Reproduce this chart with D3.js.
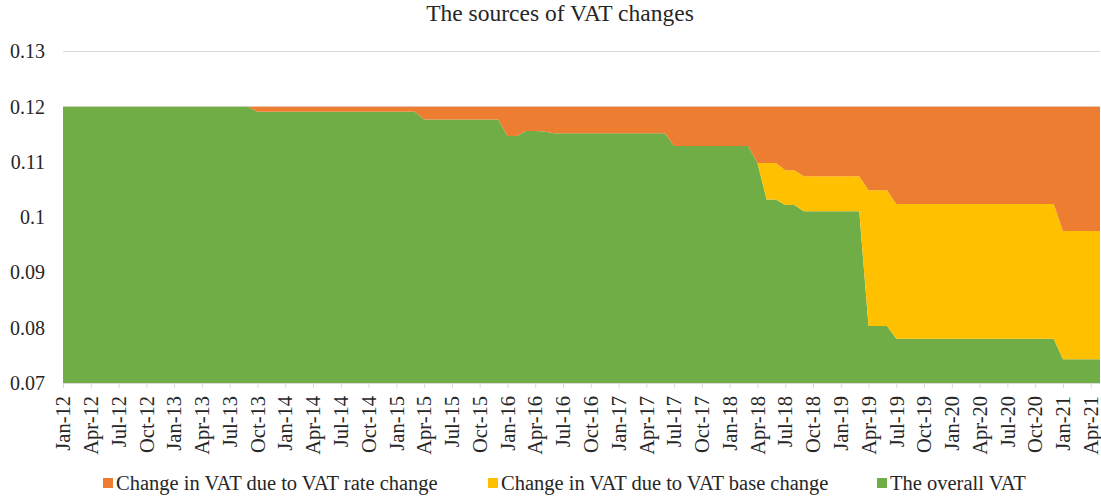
<!DOCTYPE html>
<html>
<head>
<meta charset="utf-8">
<script src="https://cdn.jsdelivr.net/npm/d3@7"></script>
<style>
body { margin: 0; background: white; }
text { font-family: "Liberation Serif", "Times New Roman", serif; fill: #262626; }
</style>
</head>
<body>
<div id="chart"></div>
<script>
// months Jan-12 .. May-21
var months = d3.timeMonth.range(new Date(2012, 0, 1), new Date(2021, 5, 1));
var monthLabels = months.map(d3.timeFormat("%b-%y"));

// the overall VAT (green, bottom layer)
var overallVAT = [
  0.12, 0.12, 0.12, 0.12, 0.12, 0.12, 0.12, 0.12, 0.12, 0.12, 0.12, 0.12,
  0.12, 0.12, 0.12, 0.12, 0.12, 0.12, 0.12, 0.12, 0.12, 0.1191, 0.1191, 0.1191,
  0.1191, 0.1191, 0.1191, 0.1191, 0.1191, 0.1191, 0.1191, 0.1191, 0.1191, 0.1191, 0.1191, 0.1191,
  0.1191, 0.1191, 0.1191, 0.1177, 0.1177, 0.1177, 0.1177, 0.1177, 0.1177, 0.1177, 0.1177, 0.1177,
  0.1147, 0.1147, 0.1156, 0.1156, 0.1155, 0.1152, 0.1152, 0.1152, 0.1152, 0.1152, 0.1152, 0.1152,
  0.1152, 0.1152, 0.1152, 0.1152, 0.1152, 0.1152, 0.1129, 0.1129, 0.1129, 0.1129, 0.1129, 0.1129,
  0.1129, 0.1129, 0.1129, 0.1098, 0.1032, 0.1032, 0.1022, 0.1022, 0.1011, 0.1011, 0.1011, 0.1011,
  0.1011, 0.1011, 0.1011, 0.0803, 0.0803, 0.0803, 0.0780, 0.0780, 0.0780, 0.0780, 0.0780, 0.0780,
  0.0780, 0.0780, 0.0780, 0.0780, 0.0780, 0.0780, 0.0780, 0.0780, 0.0780, 0.0780, 0.0780, 0.0780,
  0.0743, 0.0743, 0.0743, 0.0743, 0.0743
];

// change due to VAT base change (yellow, middle layer)
var baseChange = [
  0, 0, 0, 0, 0, 0, 0, 0, 0, 0, 0, 0,
  0, 0, 0, 0, 0, 0, 0, 0, 0, 0, 0, 0,
  0, 0, 0, 0, 0, 0, 0, 0, 0, 0, 0, 0,
  0, 0, 0, 0, 0, 0, 0, 0, 0, 0, 0, 0,
  0, 0, 0, 0, 0, 0, 0, 0, 0, 0, 0, 0,
  0, 0, 0, 0, 0, 0, 0, 0, 0, 0, 0, 0,
  0, 0, 0, 0, 0.0066, 0.0066, 0.0063, 0.0063, 0.0063, 0.0063, 0.0063, 0.0063,
  0.0063, 0.0063, 0.0063, 0.0246, 0.0246, 0.0246, 0.0244, 0.0244, 0.0244, 0.0244, 0.0244, 0.0244,
  0.0244, 0.0244, 0.0244, 0.0244, 0.0244, 0.0244, 0.0244, 0.0244, 0.0244, 0.0244, 0.0244, 0.0244,
  0.0232, 0.0232, 0.0232, 0.0232, 0.0232
];

// change due to VAT rate change (orange, top layer)
var rateChange = [
  0, 0, 0, 0, 0, 0, 0, 0, 0, 0, 0, 0,
  0, 0, 0, 0, 0, 0, 0, 0, 0, 0.0009, 0.0009, 0.0009,
  0.0009, 0.0009, 0.0009, 0.0009, 0.0009, 0.0009, 0.0009, 0.0009, 0.0009, 0.0009, 0.0009, 0.0009,
  0.0009, 0.0009, 0.0009, 0.0023, 0.0023, 0.0023, 0.0023, 0.0023, 0.0023, 0.0023, 0.0023, 0.0023,
  0.0053, 0.0053, 0.0044, 0.0044, 0.0045, 0.0048, 0.0048, 0.0048, 0.0048, 0.0048, 0.0048, 0.0048,
  0.0048, 0.0048, 0.0048, 0.0048, 0.0048, 0.0048, 0.0071, 0.0071, 0.0071, 0.0071, 0.0071, 0.0071,
  0.0071, 0.0071, 0.0071, 0.0102, 0.0102, 0.0102, 0.0115, 0.0115, 0.0126, 0.0126, 0.0126, 0.0126,
  0.0126, 0.0126, 0.0126, 0.0151, 0.0151, 0.0151, 0.0176, 0.0176, 0.0176, 0.0176, 0.0176, 0.0176,
  0.0176, 0.0176, 0.0176, 0.0176, 0.0176, 0.0176, 0.0176, 0.0176, 0.0176, 0.0176, 0.0176, 0.0176,
  0.0225, 0.0225, 0.0225, 0.0225, 0.0225
];

var yTicks = [0.07, 0.08, 0.09, 0.1, 0.11, 0.12, 0.13];

var seriesNames = ["The overall VAT", "Change in VAT due to VAT base change", "Change in VAT due to VAT rate change"];
var seriesKeys = ["overall", "base", "rate"];
var colors = { overall: "#70AD47", base: "#FFC000", rate: "#ED7D31" };

var W = 1101, H = 497;
var svg = d3.select("#chart").append("svg").attr("width", W).attr("height", H);

var x = d3.scalePoint().domain(monthLabels).range([63, 1100]);
var y = d3.scaleLinear().domain([0.07, 0.13]).range([383, 51.5]);

// title
svg.append("text")
  .attr("x", 560).attr("y", 21)
  .attr("text-anchor", "middle")
  .style("font-size", "23.5px")
  .text("The sources of VAT changes");

// gridlines
svg.append("g")
  .selectAll("line").data(yTicks.slice(1)).enter()
  .append("line")
  .attr("x1", 63).attr("x2", 1100)
  .attr("y1", function(d){ return y(d); })
  .attr("y2", function(d){ return y(d); })
  .attr("stroke", "#d9d9d9").attr("stroke-width", 1);

// stacked areas
var table = monthLabels.map(function(m, i){
  return { month: m, overall: overallVAT[i], base: baseChange[i], rate: rateChange[i] };
});
var stack = d3.stack().keys(seriesKeys);
var layers = stack(table);

var area = d3.area()
  .x(function(d){ return x(d.data.month); })
  .y0(function(d){ return y(d[0]); })
  .y1(function(d){ return y(d[1]); });

// baseline of the stack is 0, clip to the plot
svg.append("clipPath").attr("id", "clip")
  .append("rect").attr("x", 63).attr("y", 0).attr("width", 1037).attr("height", 383);

svg.append("g").attr("clip-path", "url(#clip)")
  .selectAll("path").data(layers).enter()
  .append("path")
  .attr("d", area)
  .attr("fill", function(d){ return colors[d.key]; });

// y axis labels
var yAxis = svg.append("g")
  .attr("transform", "translate(63,0)")
  .call(d3.axisLeft(y).tickValues(yTicks).tickSize(0).tickPadding(18).tickFormat(d3.format("~g")));
yAxis.select(".domain").remove();
yAxis.selectAll("text")
  .style("font-family", "Liberation Serif")
  .style("font-size", "20px")
  .attr("fill", "#262626");

// x axis
var xTickVals = monthLabels.filter(function(d, i){ return i % 3 === 0; });
var xAxis = svg.append("g")
  .attr("transform", "translate(0,383)")
  .call(d3.axisBottom(x).tickValues(xTickVals).tickSize(5).tickPadding(0));
xAxis.select(".domain").attr("stroke", "#d9d9d9").attr("d", "M63,0.5H1100");
xAxis.selectAll(".tick line").attr("stroke", "#d9d9d9");
xAxis.selectAll("text")
  .style("font-family", "Liberation Serif")
  .style("font-size", "20.5px")
  .attr("fill", "#262626")
  .attr("text-anchor", "end")
  .attr("transform", "rotate(-90)")
  .attr("x", -13).attr("y", 0).attr("dy", "0.33em");

// legend
var legendItems = [
  { key: "rate", label: seriesNames[2], x: 103 },
  { key: "base", label: seriesNames[1], x: 488 },
  { key: "overall", label: seriesNames[0], x: 877 }
];
var legend = svg.append("g").selectAll("g").data(legendItems).enter().append("g");
legend.append("rect")
  .attr("x", function(d){ return d.x; }).attr("y", 478)
  .attr("width", 10).attr("height", 10)
  .attr("fill", function(d){ return colors[d.key]; });
legend.append("text")
  .attr("x", function(d){ return d.x + 13; }).attr("y", 490)
  .style("font-size", "20.5px")
  .text(function(d){ return d.label; });
</script>
</body>
</html>
